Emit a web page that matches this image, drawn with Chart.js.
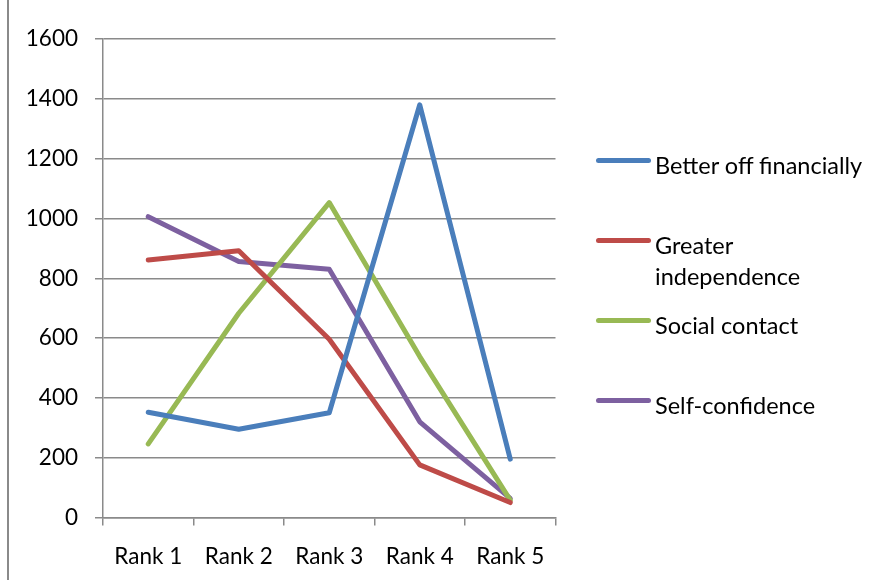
<!DOCTYPE html>
<html>
<head>
<meta charset="utf-8">
<script src="https://cdn.jsdelivr.net/npm/chart.js@4/dist/chart.umd.min.js"></script>
<style>
  html, body { margin: 0; padding: 0; background: #fff; }
  #wrap { position: relative; width: 887px; height: 580px; overflow: hidden; font-family: Lato, "Open Sans", sans-serif; }
  #frame { position: absolute; left: 7px; top: 0; width: 2px; height: 580px; background: #8a8a8a; }
  #chart { position: absolute; left: 0; top: 0; }
  #legend { position: absolute; left: 0; top: 0; width: 887px; height: 580px; }
  .swatch { position: absolute; left: 596px; width: 55px; height: 5px; border-radius: 3px; }
  .txt { position: absolute; left: 655px; font-size: 23.5px; line-height: 31px; color: #000; white-space: pre; }
</style>
</head>
<body>
<div id="wrap">
  <div id="frame"></div>
  <canvas id="chart" width="887" height="580"></canvas>
  <div id="legend"></div>
</div>
<script>
// Categories and tick values
const categories = ['Rank 1', 'Rank 2', 'Rank 3', 'Rank 4', 'Rank 5'];
const yTicks = [0, 200, 400, 600, 800, 1000, 1200, 1400, 1600];

// Series values
const betterOffFinancially = [352, 295, 350, 1380, 195];
const greaterIndependence  = [861, 892, 596, 176, 50];
const socialContact        = [246, 683, 1053, 538, 58];
const selfConfidence       = [1006, 856, 830, 320, 64];

// Series names (legend lines)
const seriesNames = ['Better off financially', 'Greater independence', 'Social contact', 'Self-confidence'];
const legendLines = [['Better off financially'], ['Greater', 'independence'], ['Social contact'], ['Self-confidence']];
const seriesColors = ['#4a7ebb', '#be4b48', '#98b954', '#7d60a0'];
const seriesValues = [betterOffFinancially, greaterIndependence, socialContact, selfConfidence];

const datasets = seriesValues.map((vals, i) => ({
  label: seriesNames[i],
  data: vals,
  borderColor: seriesColors[i],
  backgroundColor: seriesColors[i],
  borderWidth: 5,
  borderCapStyle: 'round',
  borderJoinStyle: 'round',
  pointRadius: 0,
  tension: 0,
  fill: false
}));

const gridColor = '#8a8a8a';
const tickFont = { family: 'Lato, "Open Sans", sans-serif', size: 22.5 };

new Chart(document.getElementById('chart'), {
  type: 'line',
  data: { labels: categories, datasets },
  options: {
    responsive: false,
    animation: false,
    layout: { padding: { left: 0, right: 331.5, top: 39, bottom: 0 } },
    plugins: { legend: { display: false }, tooltip: { enabled: false } },
    scales: {
      x: {
        type: 'category',
        offset: true,
        grid: { display: true, drawOnChartArea: false, drawTicks: true, tickLength: 8, color: gridColor, lineWidth: 1.5, offset: true },
        border: { display: true, color: gridColor, width: 1.5 },
        ticks: { color: '#000', font: tickFont, padding: 18, maxRotation: 0 },
        afterFit: s => { s.height = 62.5; }
      },
      y: {
        min: 0,
        max: 1600,
        afterBuildTicks: s => { s.ticks = yTicks.map(v => ({ value: v })); },
        grid: { color: gridColor, lineWidth: 1.5, drawTicks: true, tickLength: 8 },
        border: { display: true, color: gridColor, width: 1.5 },
        ticks: { color: '#000', font: tickFont, padding: 17, callback: v => String(v) },
        afterFit: s => { s.width = 103; }
      }
    }
  }
});

// Legend to the right of the plot, built from the series arrays
const legend = document.getElementById('legend');
const legendTop = 158;
const legendStep = 80;
seriesNames.forEach((name, i) => {
  const y = legendTop + i * legendStep;
  const sw = document.createElement('div');
  sw.className = 'swatch';
  sw.style.top = y + 'px';
  sw.style.background = seriesColors[i];
  const t = document.createElement('div');
  t.className = 'txt';
  t.style.top = (y - 8) + 'px';
  t.textContent = legendLines[i].join('\n');
  legend.appendChild(sw);
  legend.appendChild(t);
});
</script>
</body>
</html>
